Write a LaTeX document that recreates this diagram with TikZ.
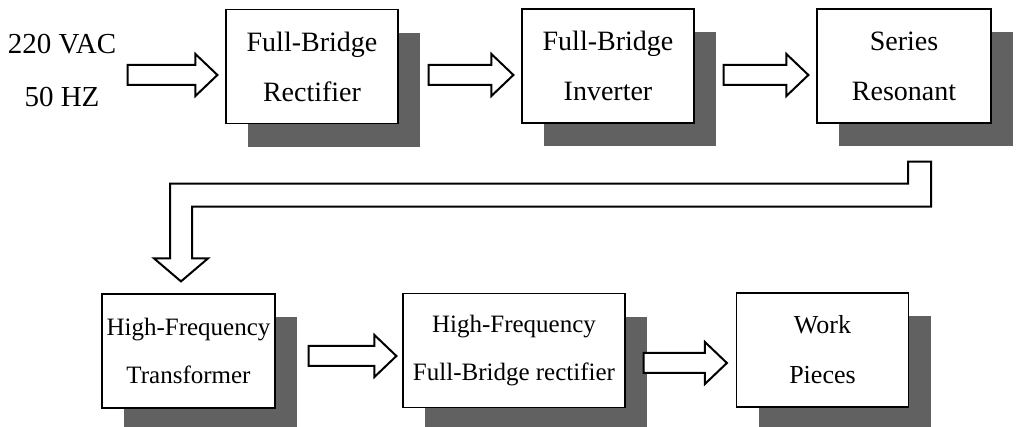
\documentclass[tikz,border=0pt]{standalone}
\usepackage{fontspec}
\setmainfont{Liberation Serif}
\usetikzlibrary{shadows, positioning, calc}

% hollow block arrow: from east of #1 (+#3) to west of #2 (-#4), lifted by #5
\newcommand{\fatarrow}[5]{%
  \coordinate (fa-e) at ($(#2.west)+(-#4,#5)$);
  \coordinate (fa-s) at ($(#1.east)+(#3,0)$);
  \coordinate (fa-b) at (fa-s |- fa-e);
  \draw[blockarrow] ($(fa-b)+(0,-10)$) -- ($(fa-e)+(-22,-10)$) -- ($(fa-e)+(-22,-21)$) -- (fa-e)
    -- ($(fa-e)+(-22,21)$) -- ($(fa-e)+(-22,10)$) -- ($(fa-b)+(0,10)$) -- cycle;}

\begin{document}
\begin{tikzpicture}[x=0.5pt,y=-0.5pt,
  stage/.style={draw,line width=0.6pt,fill=white,inner sep=0pt,minimum width=86pt,minimum height=57pt,
    align=center,font=\fontsize{14}{25}\selectfont,
    drop shadow={shadow xshift=11pt,shadow yshift=-11.75pt,fill=black!62,opacity=1}},
  lower/.style={font=\fontsize{12.5}{24}\selectfont},
  blockarrow/.style={draw,line width=1pt,fill=white,line join=miter}]
\useasboundingbox (0,0) rectangle (1019,427);
% Input
\node[align=center,inner sep=0pt,font=\fontsize{14.5}{26.5}\selectfont] (mains) at (62,70.5) {220 VAC\\50 HZ};
% Top row
\node[stage] (rect) at (312,66.5) {Full-Bridge\\Rectifier};
\node[stage] (inv) at (608,66) {Full-Bridge\\Inverter};
\node[stage,minimum width=87pt] (res) at (904,66) {Series\\Resonant};
% Bottom row
\node[stage,lower,minimum width=86.5pt] (xfmr) at (188.5,351) {High-Frequency\\Transformer};
\node[stage,lower,minimum width=111pt] (hfrect) at (514,350.5) {High-Frequency\\Full-Bridge rectifier};
\node[stage,lower,font=\fontsize{13}{25}\selectfont] (load) at (822.5,350) {Work\\Pieces};
% Arrows
\fatarrow{mains}{rect}{11}{8}{8.5}
\fatarrow{rect}{inv}{30}{8}{9}
\fatarrow{inv}{res}{29}{8}{9}
\fatarrow{xfmr}{hfrect}{33}{6}{5.5}
\fatarrow{hfrect}{load}{18}{9}{13}
% Return arrow
\coordinate (bt) at ($(res.south)+(15.5,38)$);
\coordinate (tip) at ($(xfmr.north)+(-7.5,-12)$);
\coordinate (lane) at ($(bt)+(0,33.5)$);
\coordinate (corner) at (tip |- lane);
\draw[blockarrow] ($(bt)+(-11.5,0)$) -- ($(bt)+(11.5,0)$) -- ($(lane)+(11.5,11.5)$) -- ($(corner)+(11,11.5)$)
  -- ($(tip)+(11,-23)$) -- ($(tip)+(27,-23)$) -- (tip) -- ($(tip)+(-27,-23)$) -- ($(tip)+(-11,-23)$)
  -- ($(corner)+(-11,-11.5)$) -- ($(lane)+(-11.5,-11.5)$) -- cycle;
\end{tikzpicture}
\end{document}
